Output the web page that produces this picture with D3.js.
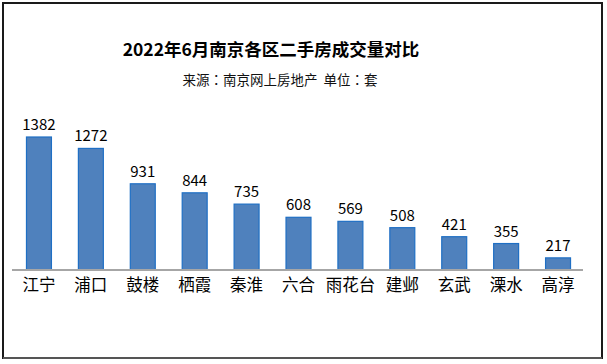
<!DOCTYPE html>
<html>
<head>
<meta charset="utf-8">
<script src="https://cdn.jsdelivr.net/npm/d3@7"></script>
<style>
  html, body { margin: 0; padding: 0; background: #fff; }
  svg { display: block; font-family: "Noto Sans CJK SC", "Noto Sans", sans-serif; }
</style>
</head>
<body>
<svg id="chart" width="607" height="364"></svg>
<script>
const titleText = "2022年6月南京各区二手房成交量对比";
const subtitleText = "来源：南京网上房地产  单位：套";
const districts = ["江宁", "浦口", "鼓楼", "栖霞", "秦淮", "六合", "雨花台", "建邺", "玄武", "溧水", "高淳"];
const volumes = [1382, 1272, 931, 844, 735, 608, 569, 508, 421, 355, 217];
const axisMin = 100;

const svg = d3.select("#chart");

// frame
svg.append("rect").attr("x", 3).attr("y", 3).attr("width", 599).attr("height", 355)
  .attr("fill", "#fff").attr("stroke", "#1a1a1a").attr("stroke-width", 2);
svg.append("line").attr("x1", 3).attr("x2", 602).attr("y1", 358).attr("y2", 358)
  .attr("stroke", "#555").attr("stroke-width", 2);

const x = d3.scaleBand().domain(districts).range([13, 584]).paddingInner(0.5).paddingOuter(0.25);
const y = d3.scaleLinear().domain([axisMin, d3.max(volumes)]).range([270, 137]);

const data = districts.map((d, i) => ({ name: d, value: volumes[i] }));

// title
svg.append("text").attr("x", 271).attr("y", 56).attr("text-anchor", "middle")
  .attr("font-size", 17.5).attr("font-weight", "bold").attr("fill", "#000").text(titleText);
svg.append("text").attr("x", 280).attr("y", 85).attr("text-anchor", "middle")
  .attr("font-family", "'Noto Sans CJK TC', 'Noto Sans CJK SC', sans-serif")
  .attr("font-size", 13.5).attr("fill", "#111").attr("xml:space", "preserve")
  .style("white-space", "pre").text(subtitleText);

// bars
svg.append("g").selectAll("rect").data(data).join("rect")
  .attr("x", d => x(d.name) + 0.5)
  .attr("y", d => y(d.value))
  .attr("width", x.bandwidth() - 1)
  .attr("height", d => y(axisMin) - y(d.value))
  .attr("fill", "#4f81bd").attr("stroke", "#1f6fc4").attr("stroke-width", 1.2);

// value labels
svg.append("g").selectAll("text").data(data).join("text")
  .attr("x", d => x(d.name) + x.bandwidth() / 2)
  .attr("y", d => y(d.value) - 7)
  .attr("text-anchor", "middle").attr("font-size", 15).attr("fill", "#000")
  .text(d => d.value);

// baseline axis
const xAxis = d3.axisBottom(x).tickSize(0).tickPadding(9);
const gx = svg.append("g").attr("transform", `translate(0,${y(axisMin)})`).call(xAxis);
gx.select(".domain").remove();
gx.append("line").attr("x1", 12).attr("x2", 583).attr("y1", 0).attr("y2", 0)
  .attr("stroke", "#a6a6a6").attr("stroke-width", 2.2);
gx.selectAll(".tick text").attr("font-size", 16.5).attr("fill", "#000")
  .attr("font-family", "'Noto Sans CJK SC', sans-serif");
</script>
</body>
</html>
